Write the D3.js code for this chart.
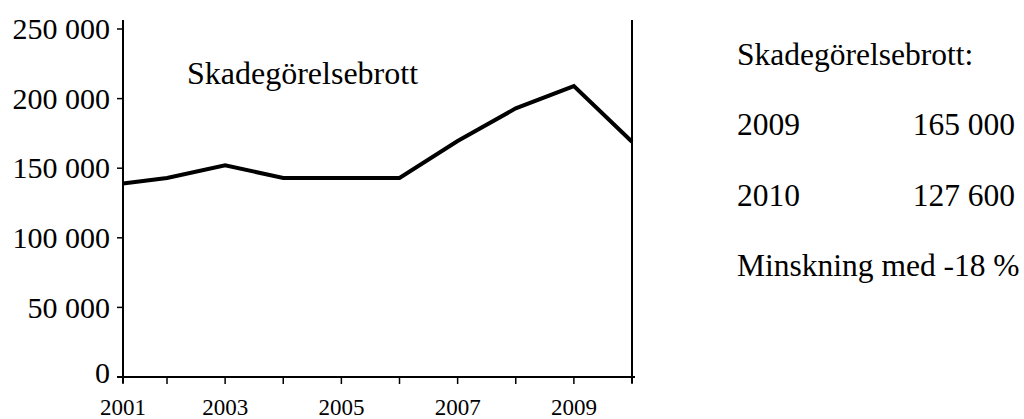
<!DOCTYPE html>
<html>
<head>
<meta charset="utf-8">
<script src="https://cdn.jsdelivr.net/npm/d3@7"></script>
<style>
  html, body { margin: 0; padding: 0; background: #fff; }
  svg { display: block; }
  text { font-family: "Liberation Serif", "Times New Roman", serif; fill: #000; }
</style>
</head>
<body>
<svg id="chart" width="1024" height="419"></svg>
<script>
// ---- data ----
const years = [2001, 2002, 2003, 2004, 2005, 2006, 2007, 2008, 2009, 2010];
const values = [139000, 143000, 152000, 143000, 143000, 143000, 169500, 193000, 209000, 169000];
const yTicks = [0, 50000, 100000, 150000, 200000, 250000];
const xLabelYears = [2001, 2003, 2005, 2007, 2009];
const seriesTitle = "Skadegörelsebrott";
const sideLines = [
  { left: "Skadegörelsebrott:", right: "" },
  { left: "2009", right: "165 000" },
  { left: "2010", right: "127 600" },
  { left: "Minskning med -18 %", right: "" }
];

// ---- layout ----
const svg = d3.select("#chart");
const pL = 123, pR = 632, pT = 29, pB = 377;

const x = d3.scaleLinear().domain([2001, 2002, 2010]).range([pL, 167, pR]);
const y = d3.scaleLinear().domain([0, 250000]).range([pB, pT]);

const fmt = v => d3.format(",")(v).replace(/,/g, " ");

// y axis
const yAxis = svg.append("g").attr("transform", `translate(${pL},0)`);
yAxis.append("line").attr("x1", 0).attr("x2", 0).attr("y1", 20).attr("y2", pB + 6)
  .attr("stroke", "#000").attr("stroke-width", 2);
yAxis.selectAll(".yt").data(yTicks).enter().append("line")
  .attr("x1", -6).attr("x2", 0).attr("y1", d => y(d)).attr("y2", d => y(d))
  .attr("stroke", "#000").attr("stroke-width", 1.5);
yAxis.selectAll(".yl").data(yTicks).enter().append("text")
  .attr("x", -13).attr("y", d => y(d) - (d === 0 ? 4 : 0))
  .attr("dy", "0.34em")
  .attr("text-anchor", "end").attr("font-size", 30)
  .text(d => fmt(d));

// x axis
const xAxis = svg.append("g");
xAxis.append("line").attr("x1", pL - 6).attr("x2", pR + 3).attr("y1", pB).attr("y2", pB)
  .attr("stroke", "#000").attr("stroke-width", 2);
xAxis.selectAll(".xt").data(years).enter().append("line")
  .attr("x1", d => x(d)).attr("x2", d => x(d)).attr("y1", pB).attr("y2", pB + 7)
  .attr("stroke", "#000").attr("stroke-width", 1.5);
xAxis.selectAll(".xl").data(xLabelYears).enter().append("text")
  .attr("x", d => x(d)).attr("y", 415)
  .attr("text-anchor", "middle").attr("font-size", 23)
  .text(d => d);

// right border line
svg.append("line").attr("x1", pR).attr("x2", pR).attr("y1", 20).attr("y2", pB + 6)
  .attr("stroke", "#000").attr("stroke-width", 2);

// series line
const line = d3.line().x((d, i) => x(years[i])).y(d => y(d));
svg.append("path").datum(values)
  .attr("d", line)
  .attr("fill", "none").attr("stroke", "#000").attr("stroke-width", 4)
  .attr("stroke-linejoin", "miter");

// series title inside plot
svg.append("text").attr("x", 187).attr("y", 84).attr("font-size", 32).text(seriesTitle);

// side text
const side = svg.append("g");
side.selectAll(".sl").data(sideLines).enter().append("text")
  .attr("x", 737).attr("y", (d, i) => 65 + i * 70.3)
  .attr("font-size", 31.5).text(d => d.left);
side.selectAll(".sr").data(sideLines.filter(d => d.right)).enter().append("text")
  .attr("x", 1015).attr("y", (d, i) => 65 + (i + 1) * 70.3)
  .attr("text-anchor", "end").attr("font-size", 31.5).text(d => d.right);
</script>
</body>
</html>
